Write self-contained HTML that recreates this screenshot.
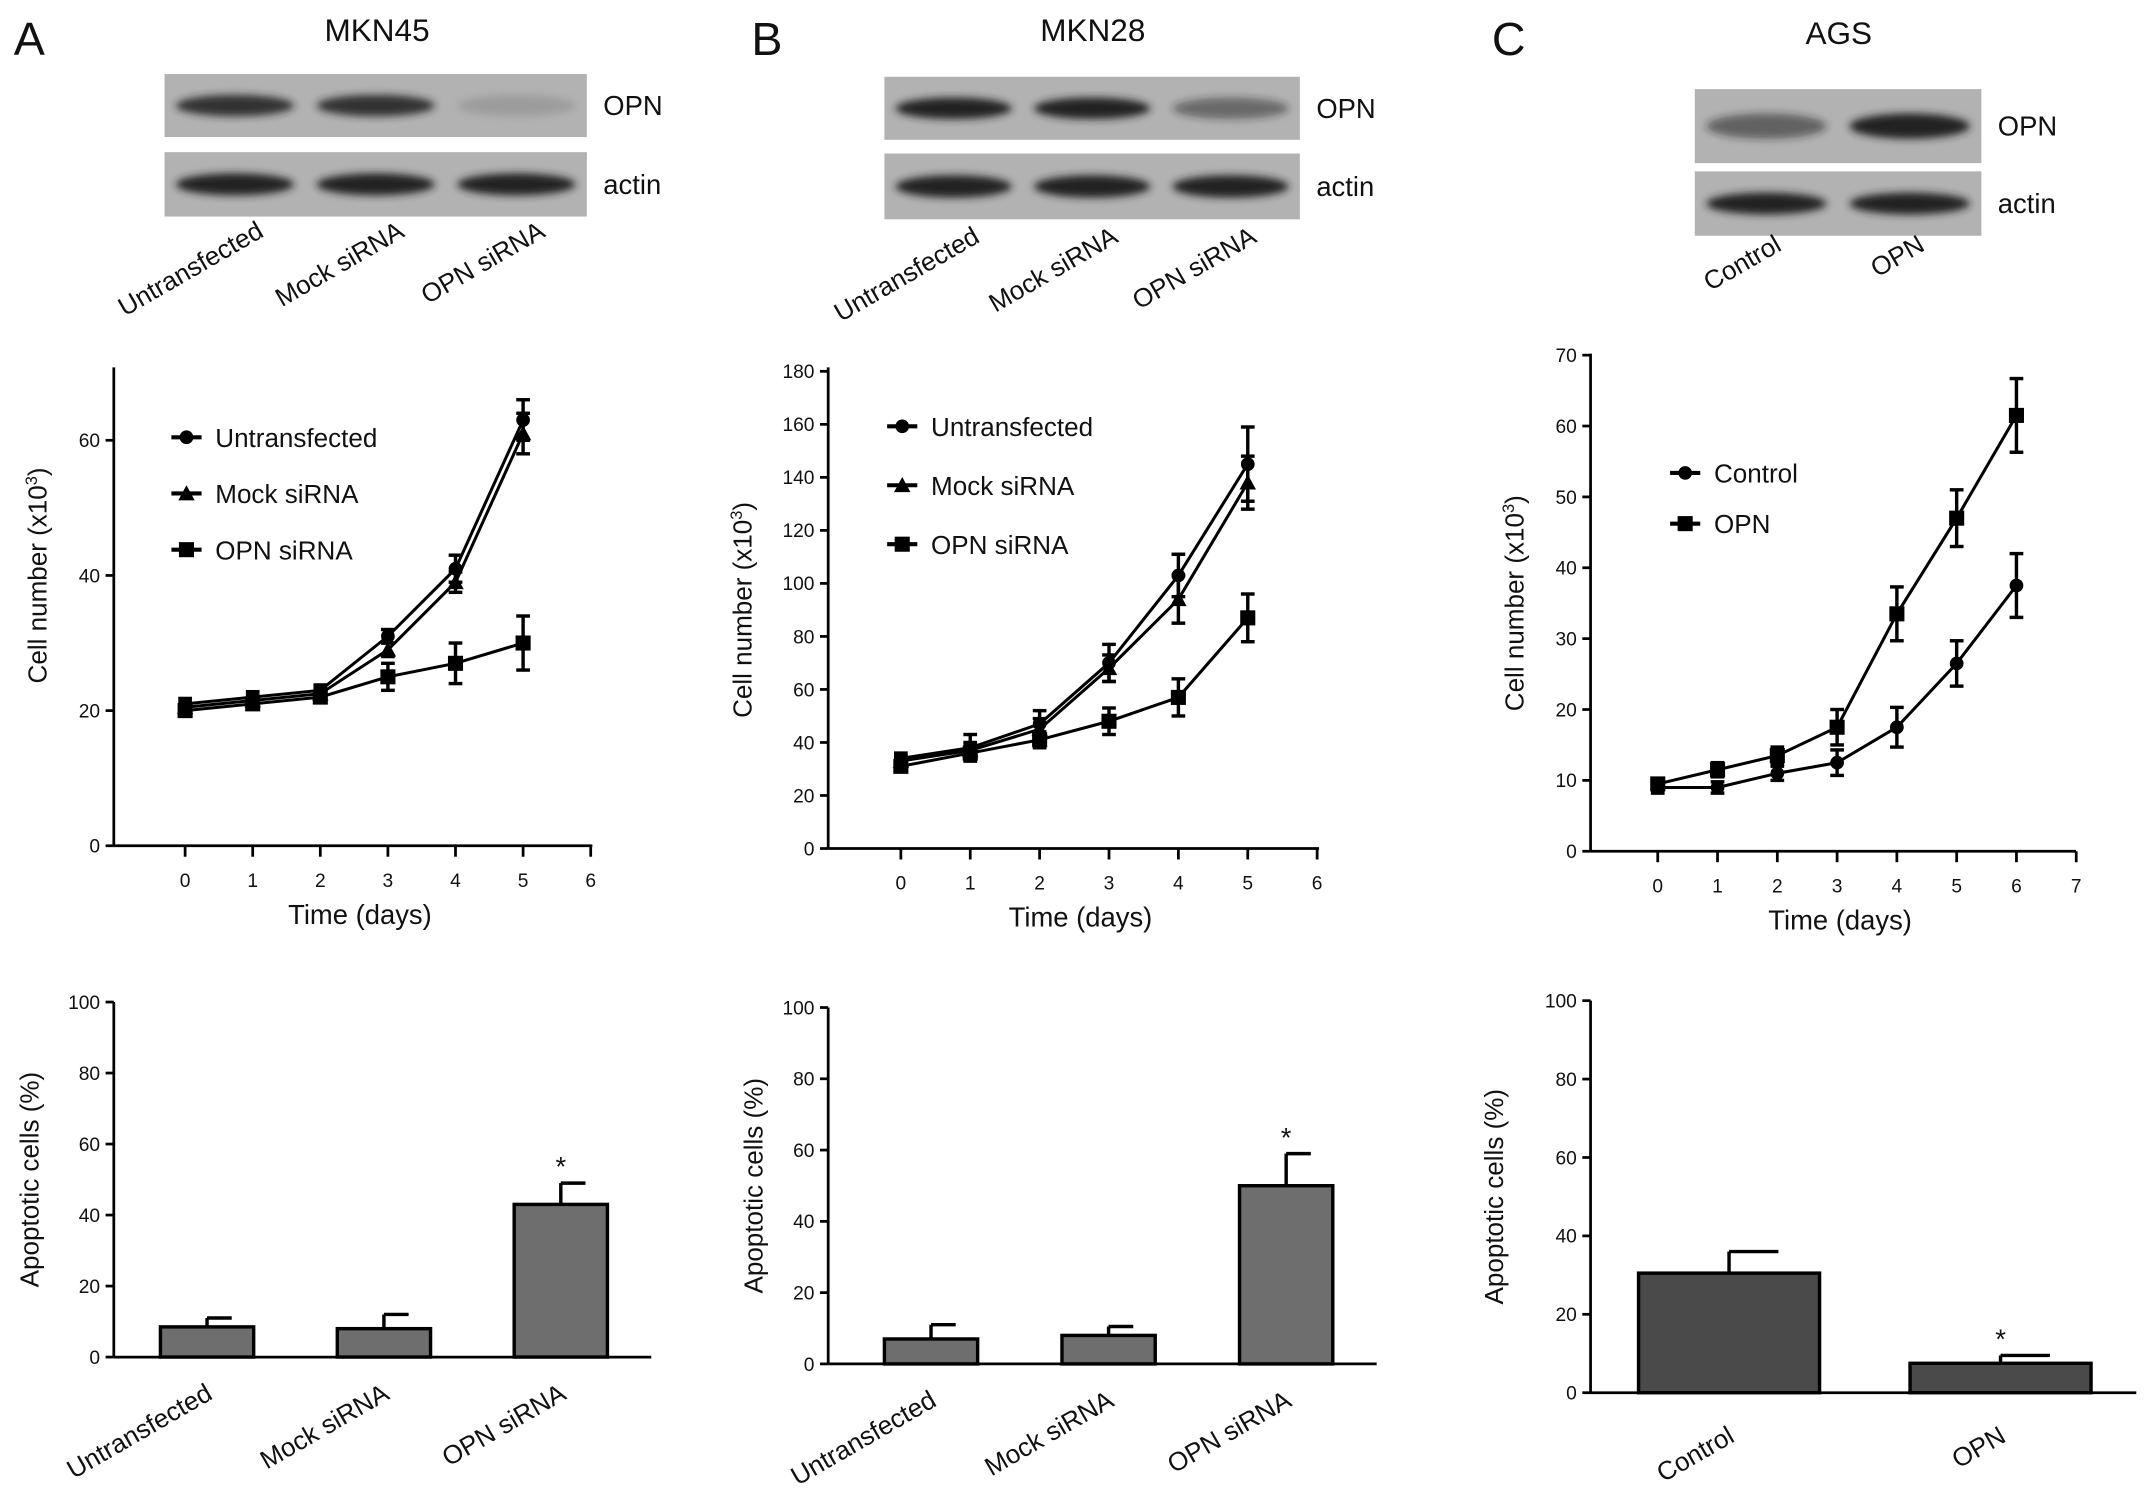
<!DOCTYPE html>
<html><head><meta charset="utf-8"><style>
html,body{margin:0;padding:0;background:#fff;}
svg{display:block;font-family:"Liberation Sans",sans-serif;}
</style></head><body>
<svg id="fig" width="2150" height="1501" viewBox="0 0 1568 1095" preserveAspectRatio="none" xmlns="http://www.w3.org/2000/svg">
<defs>
<filter id="blur" x="-20%" y="-50%" width="140%" height="200%"><feGaussianBlur stdDeviation="3"/></filter>
</defs>
<g id="root"></g>
</svg>
<script>
// ---- data ----
const daysA = [0,1,2,3,4,5];
const untA = [21,22,23,31,41,63];
const untAErr = [0.8,0.8,0.8,1,2,3];
const mockA = [20.5,21.5,22.5,29,39,61];
const mockAErr = [0.8,0.8,0.8,1,1.5,3];
const opnA = [20,21,22,25,27,30];
const opnAErr = [0.8,0.8,0.8,2,3,4];
const ticksA = [0,20,40,60];

const daysB = [0,1,2,3,4,5];
const untB = [34,38,47,70,103,145];
const untBErr = [2,5,5,7,8,14];
const mockB = [33,37,45,68,94,138];
const mockBErr = [2,3,4,5,9,10];
const opnB = [31,36,41,48,57,87];
const opnBErr = [2,3,3,5,7,9];
const ticksB = [0,20,40,60,80,100,120,140,160,180];

const daysC = [0,1,2,3,4,5,6];
const ctrlC = [9,9,11,12.5,17.5,26.5,37.5];
const ctrlCErr = [0.8,0.8,1,1.8,2.8,3.2,4.5];
const opnC = [9.5,11.5,13.5,17.5,33.5,47,61.5];
const opnCErr = [0.8,1,1.2,2.5,3.8,4,5.2];
const ticksC = [0,10,20,30,40,50,60,70];

const barCatsAB = ["Untransfected","Mock siRNA","OPN siRNA"];
const barA = [8.5,8,43];
const barAErr = [2.5,4,6];
const barB = [7,8,50];
const barBErr = [4,2.5,9];
const barCatsC = ["Control","OPN"];
const barC = [30.5,7.5];
const barCErr = [5.5,2];
const barTicks = [0,20,40,60,80,100];

const NS="http://www.w3.org/2000/svg";
const root=document.getElementById('root');
function mk(tag,attrs,parent,name,inter){
  const e=document.createElementNS(NS,tag);
  for(const k in attrs)e.setAttribute(k,attrs[k]);
  
  
  (parent||root).appendChild(e);return e;
}
function txt(x,y,s,size,parent,name,anchor,rot){
  const t=mk('text',{x:x,y:y,'font-size':size,'text-anchor':anchor||'middle',fill:'#111'},parent,name);
  if(rot!==undefined)t.setAttribute('transform','rotate('+rot+' '+x+' '+y+')');
  t.textContent=s;return t;
}
function line(x1,y1,x2,y2,w,parent,name){return mk('line',{x1,y1,x2,y2,stroke:'#000','stroke-width':w||2},parent,name);}

function marker(type,x,y,g){
  if(type==='circle')mk('circle',{cx:x,cy:y,r:5,fill:'#000'},g,'marker-circle');
  else if(type==='tri')mk('polygon',{points:(x)+','+(y-6)+' '+(x-6)+','+(y+5)+' '+(x+6)+','+(y+5),fill:'#000'},g,'marker-triangle');
  else mk('rect',{x:x-5.5,y:y-5.5,width:11,height:11,fill:'#000'},g,'marker-square');
}

function lineChart(cfg){
  const g=mk('g',{},root,cfg.name);
  const X=d=>cfg.x0+d*cfg.dx, Y=v=>cfg.y0-(v-0)*cfg.dy;
  line(cfg.ax,cfg.top,cfg.ax,cfg.y0,2,g,'y-axis');
  line(cfg.ax,cfg.y0,cfg.axEnd,cfg.y0,2,g,'x-axis');
  cfg.yt.forEach(v=>{line(cfg.ax-6,Y(v),cfg.ax,Y(v),2,g,'y-tick');txt(cfg.ax-10,Y(v)+5,String(v),14,g,'y-tick-label','end');});
  for(let d=0;d<=cfg.xmax;d++){line(X(d),cfg.y0,X(d),cfg.y0+8,2,g,'x-tick');txt(X(d),cfg.y0+30,String(d),14,g,'x-tick-label');}
  txt((cfg.ax+cfg.axEnd)/2+5,cfg.y0+57,'Time (days)',20,g,'x-axis-title');
  const yl=txt(cfg.ylx,Y(cfg.ylv),'',19,g,'y-axis-title','middle',-90);
  yl.innerHTML='Cell number (x10<tspan font-size="12" dy="-7">3</tspan><tspan dy="7">)</tspan>';
  cfg.series.forEach(s=>{
    const sg=mk('g',{},g,'series-'+s.key);
    const pts=cfg.days.map((d,i)=>X(d)+','+Y(s.v[i])).join(' ');
    mk('polyline',{points:pts,fill:'none',stroke:'#000','stroke-width':2.2},sg,'series-line');
    cfg.days.forEach((d,i)=>{
      const x=X(d),y1=Y(s.v[i]+s.e[i]),y2=Y(s.v[i]-s.e[i]);
      line(x,y1,x,y2,2.5,sg,'error-bar');line(x-5,y1,x+5,y1,2.5,sg,'error-cap');line(x-5,y2,x+5,y2,2.5,sg,'error-cap');
      marker(s.m,x,Y(s.v[i]),sg);
    });
  });
  cfg.legend.forEach((l,i)=>{
    const lg=mk('g',{},g,'legend-entry',true);
    const y=cfg.ly[i];
    line(cfg.lx,y,cfg.lx+22,y,3,lg,'legend-line');marker(l.m,cfg.lx+11,y,lg);
    txt(cfg.lx+32,y+7,l.t,19,lg,'legend-label','start');
  });
}

function barChart(cfg){
  const g=mk('g',{},root,cfg.name);
  const Y=v=>cfg.y0-v*cfg.dy;
  line(cfg.ax,Y(100),cfg.ax,cfg.y0,2,g,'y-axis');
  line(cfg.ax,cfg.y0,cfg.axEnd,cfg.y0,2,g,'x-axis');
  barTicks.forEach(v=>{line(cfg.ax-6,Y(v),cfg.ax,Y(v),2,g,'y-tick');txt(cfg.ax-10,Y(v)+5,String(v),14,g,'y-tick-label','end');});
  txt(cfg.ylx,(Y(100)+cfg.y0)/2,cfg.ylab,19,g,'y-axis-title','middle',-90);
  cfg.vals.forEach((v,i)=>{
    const bg=mk('g',{},g,'bar-'+cfg.cats[i].toLowerCase().replace(/ /g,'-'),true);
    const cx=cfg.x0+i*cfg.step, w=cfg.w;
    const ye=Y(v+cfg.err[i]);
    line(cx,ye,cx,Y(v),2.5,bg,'error-bar');line(cx,ye,cx+cfg.cap,ye,2.5,bg,'error-cap');
    mk('rect',{x:cx-w/2,y:Y(v),width:w,height:v*cfg.dy,fill:cfg.fill,stroke:'#000','stroke-width':2.5},bg,'bar');
    if(cfg.star[i])txt(cx,ye-5,'*',20,bg,'significance-star');
    txt(cx+cfg.lo,cfg.y0+cfg.ld,cfg.cats[i],19,g,'x-category-label','end',-30);
  });
}

function blot(cfg){
  const g=mk('g',{},root,cfg.name);
  cfg.rows.forEach((r,ri)=>{
    mk('rect',{x:cfg.x,y:r.y,width:cfg.w,height:r.h,fill:'#b2b2b2'},g,'blot-background');
    r.b.forEach((a,i)=>{
      const cx=cfg.x+cfg.w*(i+0.5)/r.b.length;
      mk('ellipse',{cx:cx,cy:r.y+r.h/2,rx:cfg.w/r.b.length*0.42,ry:r.h*0.17,fill:'#222','fill-opacity':a,filter:'url(#blur)'},g,'blot-band');
    });
    txt(cfg.x+cfg.w+12,r.y+r.h/2+7,r.label,20,g,'blot-row-label','start');
  });
  cfg.lanes.forEach((s,i)=>{const n=cfg.lanes.length;const cx=cfg.x+cfg.w*(i+0.5)/n+cfg.lo;txt(cx,cfg.ly,s,19,g,'lane-label','end',-30);});
}

// panel letters + titles
txt(10,40,'A',34,root,'panel-letter-a','start');
txt(548,40,'B',34,root,'panel-letter-b','start');
txt(1088,40,'C',34,root,'panel-letter-c','start');
txt(275,30,'MKN45',23,root,'title-mkn45');
txt(797,30,'MKN28',23,root,'title-mkn28');
txt(1341,32,'AGS',23,root,'title-ags');

blot({name:'blot-a',x:120,w:308,lanes:barCatsAB,ly:172,lo:22,rows:[
  {y:54,h:46,label:'OPN',b:[0.9,0.9,0.12]},{y:111,h:47,label:'actin',b:[1,1,1]}]});
blot({name:'blot-b',x:645,w:303,lanes:barCatsAB,ly:176,lo:20,rows:[
  {y:56,h:46,label:'OPN',b:[1,1,0.5]},{y:112,h:48,label:'actin',b:[1,1,1]}]});
blot({name:'blot-c',x:1236,w:209,lanes:barCatsC,ly:182,lo:12,rows:[
  {y:65,h:54,label:'OPN',b:[0.55,1]},{y:125,h:47,label:'actin',b:[1,1]}]});

lineChart({name:'growth-chart-a',ax:83,axEnd:432,top:268,y0:617,dy:4.93,x0:135,dx:49.3,xmax:6,yt:ticksA,ylx:34,ylv:40,days:daysA,
  series:[{key:'untransfected',v:untA,e:untAErr,m:'circle'},{key:'mock-sirna',v:mockA,e:mockAErr,m:'tri'},{key:'opn-sirna',v:opnA,e:opnAErr,m:'square'}],
  legend:[{t:'Untransfected',m:'circle'},{t:'Mock siRNA',m:'tri'},{t:'OPN siRNA',m:'square'}],lx:125,ly:[319,360,401]});
lineChart({name:'growth-chart-b',ax:604,axEnd:962,top:268,y0:619,dy:1.934,x0:657,dx:50.6,xmax:6,yt:ticksB,ylx:548,ylv:90,days:daysB,
  series:[{key:'untransfected',v:untB,e:untBErr,m:'circle'},{key:'mock-sirna',v:mockB,e:mockBErr,m:'tri'},{key:'opn-sirna',v:opnB,e:opnBErr,m:'square'}],
  legend:[{t:'Untransfected',m:'circle'},{t:'Mock siRNA',m:'tri'},{t:'OPN siRNA',m:'square'}],lx:647,ly:[311,354,397]});
lineChart({name:'growth-chart-c',ax:1160,axEnd:1514,top:258,y0:621,dy:5.17,x0:1209,dx:43.6,xmax:7,yt:ticksC,ylx:1111,ylv:35,days:daysC,
  series:[{key:'control',v:ctrlC,e:ctrlCErr,m:'circle'},{key:'opn',v:opnC,e:opnCErr,m:'square'}],
  legend:[{t:'Control',m:'circle'},{t:'OPN',m:'square'}],lx:1218,ly:[345,382]});

barChart({name:'apoptosis-chart-a',ax:83,axEnd:475,y0:990,dy:2.59,x0:151,step:129,w:68,cap:18,fill:'#6e6e6e',vals:barA,err:barAErr,cats:barCatsAB,star:[0,0,1],ylab:'Apoptotic cells (%)',ylx:28,lo:5,ld:30});
barChart({name:'apoptosis-chart-b',ax:604,axEnd:1004,y0:995,dy:2.6,x0:679,step:129.5,w:68,cap:18,fill:'#6e6e6e',vals:barB,err:barBErr,cats:barCatsAB,star:[0,0,1],ylab:'Apoptotic cells  (%)',ylx:556,lo:5,ld:30});
barChart({name:'apoptosis-chart-c',ax:1160,axEnd:1558,y0:1016,dy:2.86,x0:1261,step:198,w:132,cap:36,fill:'#4a4a4a',vals:barC,err:barCErr,cats:barCatsC,star:[0,1],ylab:'Apoptotic cells  (%)',ylx:1096,lo:5,ld:35});
</script>
</body></html>
